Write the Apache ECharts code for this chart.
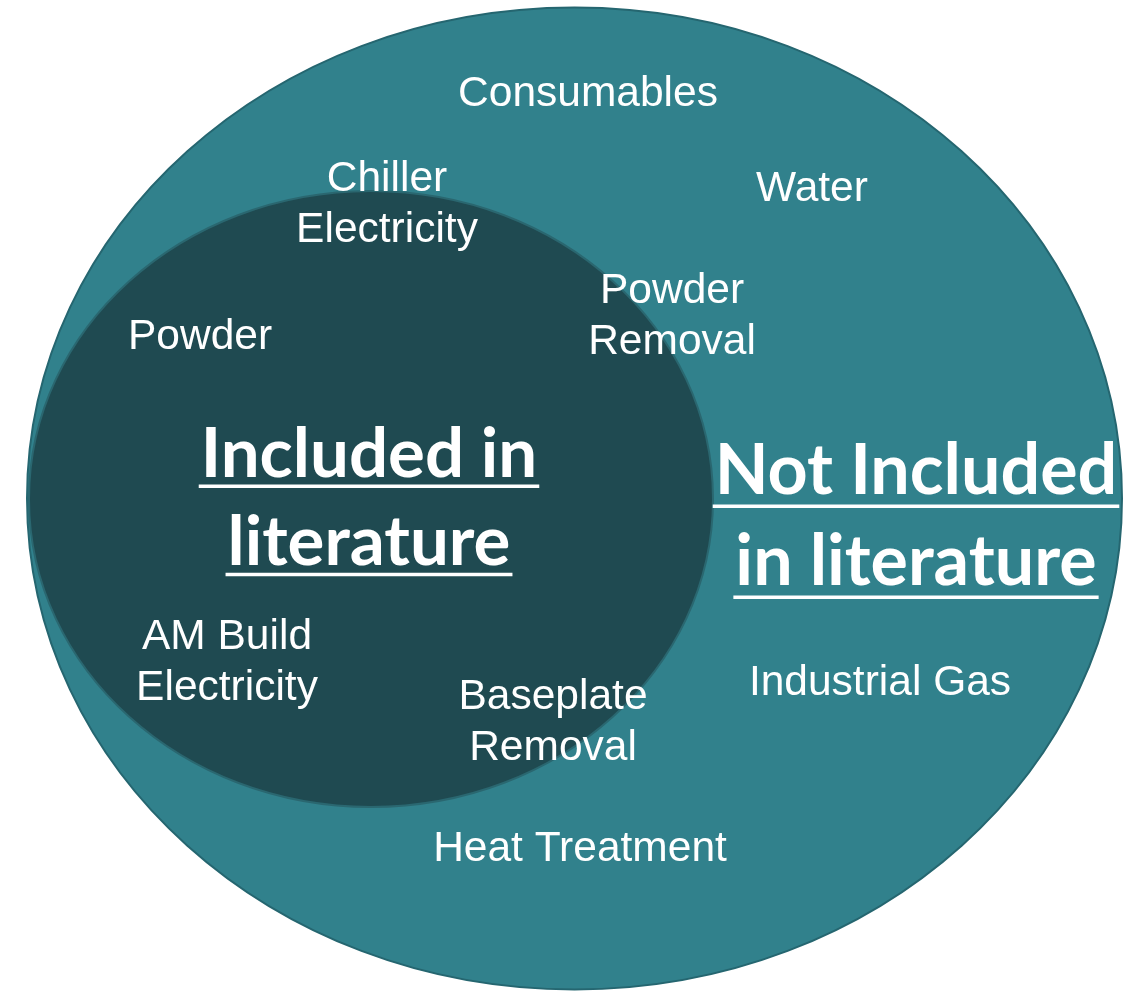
<!DOCTYPE html>
<html>
<head>
<meta charset="utf-8">
<script src="https://cdn.jsdelivr.net/npm/echarts@6/dist/echarts.min.js"></script>
<style>
html, body { margin: 0; padding: 0; background: #fff; }
#venn { width: 1138px; height: 991px; }
</style>
</head>
<body>
<div id="venn"></div>
<script>
// sets (outer first, then the nested one)
var setNames = ['Not Included\nin literature', 'Included in\nliterature'];
var setCx = [574.5, 371];
var setCy = [498.5, 499];
var setRx = [547.5, 342];
var setRy = [491, 308];
var setLabelX = [916, 369];
var setLabelY = [517, 499];

// cost items placed in the diagram
var itemNames = ['Consumables', 'Water', 'Chiller\nElectricity', 'Powder\nRemoval', 'Powder',
    'AM Build\nElectricity', 'Baseplate\nRemoval', 'Industrial Gas', 'Heat Treatment'];
var itemX = [588, 812, 387, 672, 200, 227, 553, 880, 580];
var itemY = [94, 189, 205, 317, 337, 663, 723, 683, 849];

var setFill = ['#31818c', '#1f4a51'];
var setStroke = ['#256670', '#2a6770'];
var setFont = [70, 69];
var setGap = [1.3, 1.28];
var setUnder = [0.47, 0.43];

var myChart = echarts.init(document.getElementById('venn'));

var measureCtx = document.createElement('canvas').getContext('2d');
function textWidth(txt, size) {
    measureCtx.font = 'bold ' + size + 'px Lato';
    return measureCtx.measureText(txt).width;
}

function renderSet(params, api) {
    var c = api.coord([api.value(0), api.value(1)]);
    var s = api.size([api.value(2), api.value(3)]);
    return {
        type: 'ellipse',
        shape: { cx: c[0], cy: c[1], rx: s[0], ry: s[1] },
        style: { fill: setFill[params.dataIndex], stroke: setStroke[params.dataIndex], lineWidth: 2 }
    };
}

function renderSetLabel(params, api) {
    var i = params.dataIndex;
    var c = api.coord([api.value(0), api.value(1)]);
    var lines = setNames[i].split('\n');
    var size = setFont[i];
    var gap = size * setGap[i];
    var kids = [];
    lines.forEach(function (ln, k) {
        var y = c[1] + (k - (lines.length - 1) / 2) * gap;
        var w = textWidth(ln, size);
        kids.push({
            type: 'text',
            style: {
                text: ln, x: c[0], y: y, align: 'center', verticalAlign: 'middle',
                fill: '#fff', font: 'bold ' + size + 'px Lato'
            }
        });
        kids.push({
            type: 'rect',
            shape: { x: c[0] - w / 2 - 2, y: y + size * setUnder[i], width: w + 4, height: 3.5 },
            style: { fill: '#fff' }
        });
    });
    return { type: 'group', children: kids };
}

function renderItemText(params, api) {
    var c = api.coord([api.value(0), api.value(1)]);
    return {
        type: 'text',
        style: {
            text: itemNames[params.dataIndex], x: c[0], y: c[1],
            align: 'center', verticalAlign: 'middle', lineHeight: 51,
            fill: '#fff', font: '42.5px "Liberation Sans"'
        }
    };
}

myChart.setOption({
    animation: false,
    grid: { left: 0, right: 0, top: 0, bottom: 0 },
    xAxis: { type: 'value', min: 0, max: 1138, show: false },
    yAxis: { type: 'value', min: 0, max: 991, inverse: true, show: false },
    series: [
        {
            type: 'custom',
            renderItem: renderSet,
            data: setNames.map(function (n, i) { return [setCx[i], setCy[i], setRx[i], setRy[i]]; })
        },
        {
            type: 'custom',
            renderItem: renderSetLabel,
            z: 3,
            data: setNames.map(function (n, i) { return [setLabelX[i], setLabelY[i]]; })
        },
        {
            type: 'custom',
            renderItem: renderItemText,
            z: 3,
            data: itemNames.map(function (n, i) { return [itemX[i], itemY[i]]; })
        }
    ]
});
</script>
</body>
</html>
